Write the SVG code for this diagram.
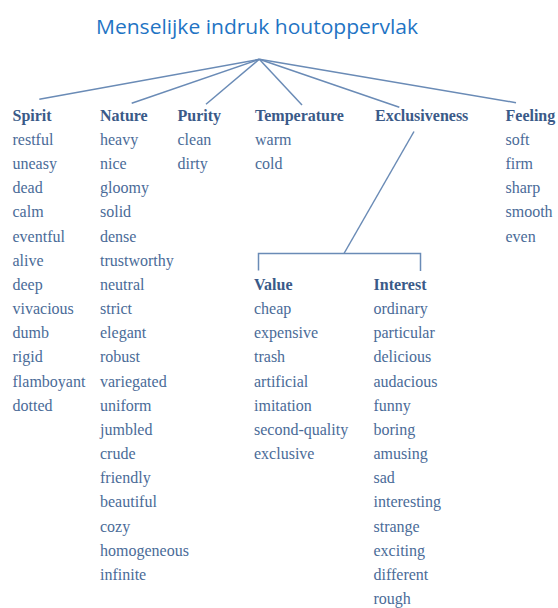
<svg xmlns="http://www.w3.org/2000/svg" width="558" height="608" viewBox="0 0 558 608">
<style>
.title{font-family:"Open Sans","Noto Sans","Liberation Sans",sans-serif;font-size:20px;fill:#1f74c4}
.h{font-family:"Liberation Serif","DejaVu Serif",serif;font-size:16px;font-weight:bold;fill:#3a5a88}
.i{font-family:"Liberation Serif","DejaVu Serif",serif;font-size:16px;fill:#4a6b98}
.c{stroke:#6a8bb6;stroke-width:1.5;fill:none}
</style>
<rect width="558" height="608" fill="#ffffff"/>
<g id="connectors" class="c">
<line x1="259.3" y1="59.3" x2="39.3" y2="99.3"/>
<line x1="259.3" y1="59.3" x2="131.7" y2="103.3"/>
<line x1="259.3" y1="59.3" x2="206" y2="104.3"/>
<line x1="259.3" y1="59.3" x2="302" y2="105"/>
<line x1="259.3" y1="59.3" x2="399.3" y2="107.3"/>
<line x1="259.3" y1="59.3" x2="516" y2="102.7"/>
<line x1="414" y1="131.5" x2="344" y2="253.5"/>
<polyline points="258.5,270.5 258.5,253.5 420.5,253.5 420.5,271"/>
</g>
<g id="root">
<text class="title" x="257" y="33.5" text-anchor="middle" textLength="322" lengthAdjust="spacingAndGlyphs">Menselijke indruk houtoppervlak</text>
</g>
<g id="spirit">
<text class="h" x="12.5" y="120.6">Spirit</text>
<text class="i" x="12.5" y="144.8">restful</text>
<text class="i" x="12.5" y="169">uneasy</text>
<text class="i" x="12.5" y="193.1">dead</text>
<text class="i" x="12.5" y="217.3">calm</text>
<text class="i" x="12.5" y="241.5">eventful</text>
<text class="i" x="12.5" y="265.6">alive</text>
<text class="i" x="12.5" y="289.8">deep</text>
<text class="i" x="12.5" y="314">vivacious</text>
<text class="i" x="12.5" y="338.2">dumb</text>
<text class="i" x="12.5" y="362.3">rigid</text>
<text class="i" x="12.5" y="386.5">flamboyant</text>
<text class="i" x="12.5" y="410.7">dotted</text>
</g>
<g id="nature">
<text class="h" x="100" y="120.6">Nature</text>
<text class="i" x="100" y="144.8">heavy</text>
<text class="i" x="100" y="169">nice</text>
<text class="i" x="100" y="193.1">gloomy</text>
<text class="i" x="100" y="217.3">solid</text>
<text class="i" x="100" y="241.5">dense</text>
<text class="i" x="100" y="265.6">trustworthy</text>
<text class="i" x="100" y="289.8">neutral</text>
<text class="i" x="100" y="314">strict</text>
<text class="i" x="100" y="338.2">elegant</text>
<text class="i" x="100" y="362.3">robust</text>
<text class="i" x="100" y="386.5">variegated</text>
<text class="i" x="100" y="410.7">uniform</text>
<text class="i" x="100" y="434.8">jumbled</text>
<text class="i" x="100" y="459">crude</text>
<text class="i" x="100" y="483.2">friendly</text>
<text class="i" x="100" y="507.4">beautiful</text>
<text class="i" x="100" y="531.5">cozy</text>
<text class="i" x="100" y="555.7">homogeneous</text>
<text class="i" x="100" y="579.9">infinite</text>
</g>
<g id="purity">
<text class="h" x="177.5" y="120.6">Purity</text>
<text class="i" x="177.5" y="144.8">clean</text>
<text class="i" x="177.5" y="169">dirty</text>
</g>
<g id="temperature">
<text class="h" x="255" y="120.6">Temperature</text>
<text class="i" x="255" y="144.8">warm</text>
<text class="i" x="255" y="169">cold</text>
</g>
<g id="exclusiveness">
<text class="h" x="375" y="120.6">Exclusiveness</text>
</g>
<g id="feeling">
<text class="h" x="505.5" y="120.6">Feeling</text>
<text class="i" x="505.5" y="144.8">soft</text>
<text class="i" x="505.5" y="169">firm</text>
<text class="i" x="505.5" y="193.1">sharp</text>
<text class="i" x="505.5" y="217.3">smooth</text>
<text class="i" x="505.5" y="241.5">even</text>
</g>
<g id="value">
<text class="h" x="254" y="289.8">Value</text>
<text class="i" x="254" y="314">cheap</text>
<text class="i" x="254" y="338.2">expensive</text>
<text class="i" x="254" y="362.3">trash</text>
<text class="i" x="254" y="386.5">artificial</text>
<text class="i" x="254" y="410.7">imitation</text>
<text class="i" x="254" y="434.8">second-quality</text>
<text class="i" x="254" y="459">exclusive</text>
</g>
<g id="interest">
<text class="h" x="373.5" y="289.8">Interest</text>
<text class="i" x="373.5" y="314">ordinary</text>
<text class="i" x="373.5" y="338.2">particular</text>
<text class="i" x="373.5" y="362.3">delicious</text>
<text class="i" x="373.5" y="386.5">audacious</text>
<text class="i" x="373.5" y="410.7">funny</text>
<text class="i" x="373.5" y="434.8">boring</text>
<text class="i" x="373.5" y="459">amusing</text>
<text class="i" x="373.5" y="483.2">sad</text>
<text class="i" x="373.5" y="507.4">interesting</text>
<text class="i" x="373.5" y="531.5">strange</text>
<text class="i" x="373.5" y="555.7">exciting</text>
<text class="i" x="373.5" y="579.9">different</text>
<text class="i" x="373.5" y="604">rough</text>
</g>
</svg>
